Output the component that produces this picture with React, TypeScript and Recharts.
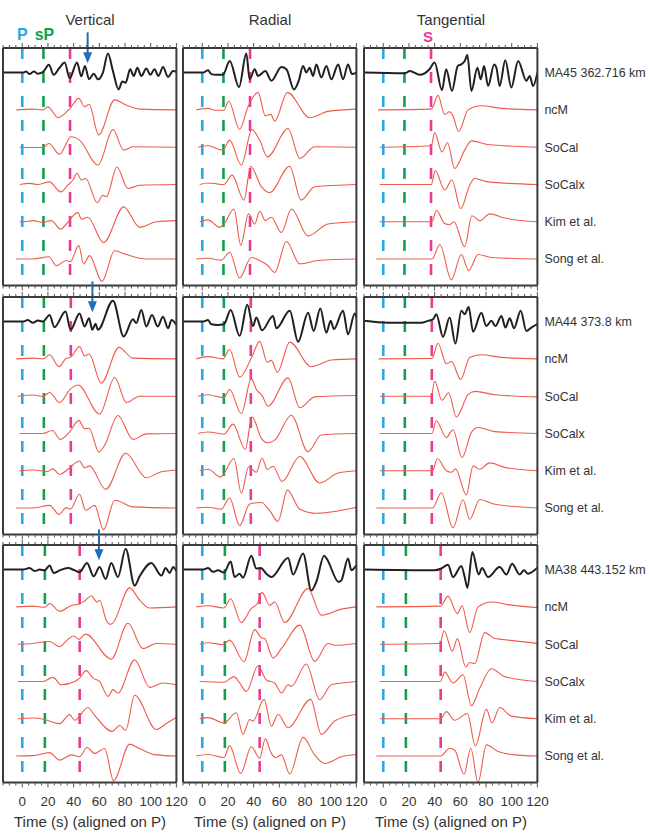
import React from 'react'
import { LineChart, Line, XAxis, YAxis, ReferenceLine, ReferenceDot } from 'recharts'

type Pt = [number, number]

const components = ['Vertical', 'Radial', 'Tangential']
const stations = ['MA45 362.716 km', 'MA44 373.8 km', 'MA38 443.152 km']
const models = ['ncM', 'SoCal', 'SoCalx', 'Kim et al.', 'Song et al.']

const xTicks = [-15, -10, -5, 0, 5, 10, 15, 20, 25, 30, 35, 40, 45, 50, 55, 60, 65, 70, 75, 80, 85, 90, 95, 100, 105, 110, 115, 120]

// phase times (s after P) for each station row
const pPick = [0, 0, 0]
const sPPick = [16.5, 16.8, 17.6]
const sPick = [37.2, 37.8, 44.7]
const arrowPick = [50.9, 54.6, 59.7]

// traces: [observed, ncM, SoCal, SoCalx, Kim et al., Song et al.], points are [time, amplitude]
const ma45Vertical: Pt[][] = [
  [[-15, 0], [0.5, 0], [3, 0.03], [5.7, -0.04], [9, 0.03], [12, -0.03], [16, 0.01], [20.8, 0.21], [24.4, -0.06], [29, 0.13], [33, 0.27], [36.9, -0.15], [42.6, 0.27], [46, -0.1], [48.8, 0.18], [52, -0.18], [55.6, -0.03], [59, -0.18], [62.8, 0], [66.7, 0.51], [70.6, 0.04], [75, -0.45], [77.9, -0.24], [80.5, -0.27], [84, 0.09], [86.8, -0.09], [89.6, 0.13], [92.7, -0.09], [96.6, 0.11], [99.7, -0.06], [103, 0.09], [106, -0.09], [109.6, 0.15], [113.5, -0.12], [117.4, 0.04], [120, 0.02]],
  [[-4.7, 0], [8, 0.02], [16, 0], [20, 0.08], [27.8, -0.21], [37.4, 0.05], [44, 0.31], [48.6, 0.08], [52, 0.15], [59.5, -0.67], [71.9, 0.27], [80.9, 0.13], [91.4, 0.02], [120, 0]],
  [[-2, 0], [16, -0.01], [20.8, 0.1], [29, -0.19], [38, 0.28], [44.6, 0.19], [59, -0.48], [70.6, 0.47], [79, -0.08], [86, 0.01], [120, 0]],
  [[-2, 0], [5.7, 0.03], [12, 0], [21, 0.07], [30, -0.2], [35.5, -0.02], [39.5, 0.12], [42.6, 0.3], [46, 0.12], [49.4, 0.16], [58.4, -0.49], [62.8, -0.29], [65.5, -0.33], [73.7, 0.47], [82.3, -0.11], [91.4, -0.02], [120, 0]],
  [[-2, 0], [0.5, 0], [8.3, 0.03], [16, -0.02], [22.6, 0.03], [29.9, -0.2], [34.3, -0.06], [43.4, 0.25], [46, 0.07], [51, 0.12], [63.3, -0.56], [79, 0.4], [91.4, -0.15], [104.4, 0], [120, 0.03]],
  [[-4.7, 0], [8.3, 0], [20.8, 0.06], [26.5, -0.18], [34.3, -0.04], [37.4, -0.07], [44, 0.36], [47.8, -0.13], [52.4, 0.09], [62, -0.6], [71.9, 0.22], [81, 0.12], [96.6, 0], [120, 0]],
]

const ma45Radial: Pt[][] = [
  [[-15, 0], [0.5, 0], [4.5, 0.06], [7, -0.04], [10.9, -0.06], [16, -0.06], [21.4, 0.31], [28.6, -0.39], [34.3, 0.51], [36.9, -0.18], [40.8, 0.09], [43.4, -0.09], [49.1, 0.04], [53.8, -0.22], [61.6, 0.15], [65.5, 0.09], [71.4, -0.45], [75.1, -0.22], [78.5, 0.18], [81, 0], [83.6, 0.13], [86.3, -0.09], [88.8, 0.22], [92.7, -0.13], [96.6, 0.18], [100.5, -0.18], [105.8, 0.22], [109.6, -0.18], [113.5, 0.22], [116.6, -0.04], [120, 0]],
  [[-4.6, 0], [4.5, 0.04], [9.7, -0.01], [16.9, -0.01], [20.6, 0.24], [29, -0.52], [35.6, 0.08], [43.4, 0.47], [49.1, -0.16], [53.3, -0.12], [56.4, -0.3], [66.3, 0.47], [83.6, -0.21], [97.9, -0.04], [120, 0.02]],
  [[-3.3, 0], [4.5, 0.04], [16, -0.08], [21.3, 0.19], [30.4, -0.48], [38.7, 0.47], [44.7, 0.19], [50.7, -0.26], [66.8, 0.5], [75.9, -0.3], [87.5, 0.01], [120, 0]],
  [[-2, 0], [4.5, 0.04], [12.2, 0.01], [16.9, 0], [23.2, 0.25], [32.5, -0.42], [37.7, 0.49], [46, -0.06], [52.5, -0.22], [68, 0.49], [77, -0.42], [87.5, -0.06], [120, 0]],
  [[-2, 0], [4.5, 0.05], [13.6, -0.15], [16.9, -0.06], [24.7, 0.34], [30, -0.63], [36, 0.21], [40.8, -0.06], [44.7, 0.28], [49.1, 0.03], [53.8, 0.12], [61.6, -0.29], [69.4, 0.34], [82.3, -0.38], [97.9, -0.06], [120, 0]],
  [[-4.6, 0], [4.5, 0.02], [14.8, -0.03], [21.4, 0.18], [29, -0.51], [38.2, 0.04], [44.7, -0.04], [51.2, -0.18], [56.4, -0.36], [65.5, 0.47], [75.9, -0.13], [90.1, -0.04], [120, 0]],
]

const ma45Tangential: Pt[][] = [
  [[-15, 0], [16.7, -0.02], [20.6, 0.04], [28.4, -0.06], [36, 0.09], [40, 0.27], [45.7, -0.47], [49, 0.09], [53.5, -0.49], [58, 0.18], [60.6, 0.22], [63.4, 0.31], [65.5, 0.47], [68.6, -0.49], [73.3, 0.13], [75.9, -0.18], [78.5, 0.18], [81.6, -0.36], [86.3, 0.22], [88.1, 0.13], [90.6, -0.36], [95, 0.33], [99.7, -0.4], [105, 0.31], [111.5, -0.22], [114, -0.09], [116.6, -0.36], [120, 0]],
  [[-4, 0], [37.4, 0.02], [42.6, 0.39], [47.8, -0.12], [51.7, -0.05], [54, -0.14], [58.7, -0.58], [66, 0], [76.4, 0.11], [92, 0.04], [120, 0]],
  [[-2.8, 0], [37.4, 0.04], [40, 0.39], [45.7, -0.13], [50, 0.12], [55.6, -0.57], [63.4, -0.08], [68.6, 0.17], [81.6, 0.07], [120, 0]],
  [[-2.8, 0], [37.4, 0], [40.5, 0.37], [47.8, -0.15], [53.5, 0.12], [60.3, -0.65], [67.3, -0.02], [71, 0.16], [81.6, 0.07], [120, 0]],
  [[-2.8, 0], [37.9, 0], [41.4, 0.31], [47.8, -0.05], [51.7, -0.08], [55, 0], [63.4, -0.67], [69, 0.16], [75.1, 0.03], [82.9, 0.21], [94.5, 0.1], [120, 0]],
  [[-5.4, 0], [38, 0], [44, 0.39], [53, -0.56], [60.8, 0.12], [66.5, -0.31], [73.8, 0.12], [84.2, 0.04], [120, 0]],
]

const ma44Vertical: Pt[][] = [
  [[-15, 0], [0.5, 0], [4.4, 0.04], [8.3, -0.03], [12.2, 0.03], [16, 0], [21.3, 0.18], [25, -0.15], [33.7, 0.27], [37.6, -0.22], [44.6, 0.22], [48.5, -0.13], [52, 0.09], [54.5, -0.22], [57, -0.06], [58.9, -0.22], [70.6, 0.56], [79, -0.4], [86.2, 0.06], [88.8, -0.04], [92.7, 0.31], [96.6, -0.13], [101, 0.18], [105.4, -0.13], [109.6, 0.13], [113.5, -0.18], [116.2, 0.04], [120, -0.09]],
  [[-4.7, 0], [8.3, 0.02], [16, 0], [21.3, 0.11], [28.6, -0.21], [34.3, 0.02], [37.4, 0.04], [44.6, 0.33], [48.5, 0.08], [52, 0.13], [61.5, -0.65], [75.3, 0.31], [86.2, 0.02], [120, 0]],
  [[-3.4, 0], [8.3, 0.03], [16, -0.01], [21.3, 0.1], [29, -0.17], [37.4, 0.19], [43.4, 0.3], [60.2, -0.48], [72, 0.5], [81, -0.17], [91.4, 0], [120, 0]],
  [[-2.1, 0], [16, 0], [23.4, 0.08], [29.6, -0.16], [36.9, 0.04], [44, 0.35], [48.5, 0.13], [52, 0.14], [59.7, -0.5], [64.1, -0.32], [74.5, 0.48], [86.2, -0.16], [96.6, -0.01], [120, 0]],
  [[-2.1, 0], [8.3, 0.02], [20, -0.02], [23.9, 0.05], [29, -0.1], [35.6, 0.04], [44.6, 0.26], [48.5, 0.08], [52.4, 0.13], [65, -0.5], [80.5, 0.47], [96.6, -0.19], [107, -0.04], [120, 0.02]],
  [[-4.7, 0], [8.3, 0], [21.3, 0.07], [28.6, -0.17], [34.3, 0.01], [37.4, -0.03], [44.6, 0.37], [49.3, -0.06], [56.3, 0.07], [63.3, -0.58], [72, 0.21], [86.2, 0.03], [120, 0]],
]

const ma44Radial: Pt[][] = [
  [[-15, 0], [0.5, 0], [4.5, 0.04], [7, -0.07], [12.2, -0.09], [16.9, -0.07], [22.1, 0.31], [29.1, -0.38], [35.1, 0.45], [39.5, -0.12], [42.1, 0.11], [46.5, -0.23], [55.1, 0.15], [57.7, -0.18], [68.1, 0.29], [74.6, -0.54], [82.4, 0.24], [86.7, -0.25], [91.9, 0.35], [96.6, -0.3], [100, 0.02], [102.5, -0.2], [109.6, 0.29], [113.5, -0.34], [118.7, 0.22], [120, 0.1]],
  [[-4.6, 0], [4.5, 0.06], [16.1, 0], [21.3, 0.25], [29.1, -0.49], [38.7, 0.06], [44.7, 0.47], [50.7, -0.09], [53.8, -0.04], [58.5, -0.36], [68.1, 0.45], [84.9, -0.21], [100.5, -0.03], [120, 0]],
  [[-3.3, 0], [4.5, 0.04], [16.9, -0.04], [21.3, 0.18], [30.4, -0.47], [38.2, 0.47], [42.1, 0.18], [46.5, 0.02], [51.2, -0.27], [66.8, 0.49], [75.9, -0.31], [87.5, -0.02], [120, 0.02]],
  [[-3.3, 0], [4.5, 0.04], [16.9, -0.02], [23.9, 0.25], [33.5, -0.43], [38.7, 0.45], [46, -0.13], [51.2, -0.25], [56.4, -0.18], [69.4, 0.49], [82.3, -0.49], [92.7, -0.04], [120, 0]],
  [[-2, 0], [4.5, 0.04], [14.3, -0.17], [24.7, 0.33], [30.4, -0.6], [36.1, 0.1], [42.1, -0.04], [46.5, 0.34], [50.7, 0.03], [55.1, 0.12], [62.1, -0.29], [75.9, 0.38], [91.4, -0.33], [105.8, -0.06], [120, 0]],
  [[-4.6, 0], [4.5, 0.02], [14.8, -0.03], [21.3, 0.27], [29.1, -0.47], [36.9, 0.11], [46, 0.15], [52.5, -0.07], [58.9, -0.36], [66.3, 0.48], [75.9, -0.03], [88.8, -0.14], [120, 0.02]],
]

const ma44Tangential: Pt[][] = [
  [[-15, 0.02], [3.7, -0.03], [29.6, -0.03], [34.8, 0.02], [38.7, 0.06], [41.3, 0.2], [46.5, -0.41], [51.7, 0.11], [56.2, -0.59], [60.8, 0.29], [63.4, 0.2], [66.5, 0.39], [69.9, -0.27], [76.4, 0.24], [80.2, -0.12], [84.2, 0.02], [87.3, -0.12], [92, 0.15], [95.1, -0.16], [98.5, 0.09], [101.8, -0.18], [107, 0.29], [111.4, -0.25], [115.3, -0.16], [120, -0.07]],
  [[-3.6, 0], [37.9, 0.01], [42.6, 0.42], [49.1, -0.13], [53.1, -0.07], [60.3, -0.55], [67.3, 0.04], [76.4, 0.11], [92, 0.04], [120, 0]],
  [[-2.8, 0], [37.4, 0], [40, 0.4], [45.7, -0.11], [50.9, 0.09], [56.9, -0.56], [66, 0.04], [71.3, 0.13], [86.8, 0.04], [120, -0.02]],
  [[-2.8, 0], [37.9, 0], [41.3, 0.34], [49.1, -0.11], [54.3, 0.1], [61.3, -0.65], [68.6, 0.03], [73.8, 0.16], [86.8, 0.05], [120, 0]],
  [[-2.8, 0], [38.4, 0], [42.1, 0.33], [49.1, 0], [53.1, -0.04], [56.2, 0.05], [64.7, -0.65], [69.9, 0.13], [75.1, 0.04], [82.9, 0.21], [94.5, 0.09], [120, 0]],
  [[-5.4, 0], [38.4, 0], [45.2, 0.41], [54.3, -0.53], [62.1, 0.22], [67.3, -0.3], [75.1, 0.23], [86.8, 0.1], [120, 0]],
]

const ma38Vertical: Pt[][] = [
  [[-15, 0], [0.5, 0], [5.7, 0.04], [9.6, -0.04], [13.5, 0], [17.4, -0.02], [21.3, 0.11], [24.4, -0.09], [29.1, -0.02], [35.6, 0.04], [40.8, -0.02], [44.6, -0.07], [50.4, 0.18], [55.6, -0.18], [60.2, 0.07], [64.9, -0.25], [69.3, 0.18], [74.5, -0.2], [80.5, 0.56], [87.5, -0.43], [91.4, -0.18], [100.5, 0.18], [108.3, -0.16], [111.6, 0.04], [114.8, -0.09], [117.4, 0.07], [120, -0.04]],
  [[-4.7, 0], [8.3, 0.02], [17.4, -0.01], [21.3, 0.09], [29.1, -0.12], [38.2, 0.04], [44.6, 0.08], [49.3, 0.18], [53.7, 0.3], [58.2, 0.13], [60.2, 0.18], [65.4, -0.36], [68.5, -0.47], [70.6, -0.43], [83.6, 0.51], [91.4, 0.18], [99.2, -0.03], [120, 0]],
  [[-3.4, 0], [8.3, 0.02], [21.3, 0.07], [29.1, -0.07], [34.3, 0.09], [40, 0.22], [44.1, 0.13], [49.3, 0.27], [69.3, -0.4], [82.3, 0.56], [94, -0.12], [104.4, 0.02], [120, 0]],
  [[-3.4, 0], [16, 0], [23.9, 0.11], [30.4, -0.09], [40.8, 0], [44.6, 0.09], [49.8, 0.29], [55.1, 0.09], [60.2, 0], [66.8, -0.4], [70.6, -0.22], [74.5, -0.31], [87.5, 0.58], [99.2, -0.16], [109.6, -0.04], [120, -0.09]],
  [[-3.4, 0], [8.3, 0.02], [17.4, -0.02], [29.1, -0.13], [36.9, 0.11], [40.8, -0.04], [51.1, 0.3], [56.3, 0.09], [70.1, -0.34], [75.8, -0.18], [80.5, -0.31], [87.5, 0.63], [104.4, -0.29], [112.1, -0.13], [120, 0.04]],
  [[-4.7, 0], [8.3, 0.01], [21.3, 0.09], [29.1, -0.11], [38.2, 0.03], [44.6, -0.02], [50.4, 0.23], [56.3, 0.07], [64.1, 0.2], [71.1, -0.66], [83.6, 0.32], [91.4, 0.2], [104.4, 0.03], [120, 0]],
]

const ma38Radial: Pt[][] = [
  [[-15, 0], [0.5, 0], [4.5, 0.04], [8.4, -0.06], [12.2, -0.02], [16.9, -0.08], [22.1, 0.22], [25.2, -0.2], [29.1, -0.11], [31.7, -0.22], [38.2, 0.37], [42.1, 0.03], [45.5, 0.04], [49.9, -0.11], [53.8, -0.2], [66.8, 0.31], [70.7, -0.13], [78.5, 0.43], [84.9, -0.56], [88.8, -0.33], [94.8, 0.37], [96.6, 0.31], [106.2, -0.33], [108.3, -0.29], [113.5, 0.3], [116.1, -0.02], [120, 0.12]],
  [[-4.6, 0], [4.5, 0.03], [16.9, -0.03], [22.1, 0.22], [30.4, -0.42], [38.2, -0.04], [42.9, 0.09], [46.5, 0.39], [52.5, 0.04], [56.4, 0.13], [64.2, -0.42], [82.3, 0.49], [92.7, -0.22], [108.3, -0.06], [120, 0]],
  [[-2, 0], [4.5, 0.04], [16.1, -0.01], [21.3, 0.11], [32.5, -0.47], [40.8, 0.39], [46, 0.17], [48.6, 0.15], [55.1, -0.37], [62, -0.1], [75.9, 0.51], [87.5, -0.46], [97.9, 0.02], [103.1, -0.03], [120, 0.02]],
  [[-2, 0], [16.9, -0.02], [24.7, 0.13], [29.1, -0.04], [34.3, -0.27], [43.4, 0.42], [49.9, 0.04], [56.4, -0.04], [61.6, -0.31], [66.8, -0.09], [69.4, -0.13], [81, 0.47], [91.4, -0.49], [100.5, -0.09], [120, 0]],
  [[-2, 0], [4.5, 0.03], [16.9, -0.11], [26.5, 0.16], [31.7, -0.42], [36.9, -0.02], [39.5, -0.06], [48.1, 0.52], [53.8, -0.2], [59, 0.12], [66.8, -0.24], [84.4, 0.52], [92.7, -0.42], [103.1, -0.06], [120, 0.12]],
  [[-4.6, 0], [4.5, 0.04], [16.9, -0.04], [21.3, 0.28], [29.9, -0.47], [38.2, 0.25], [44.7, -0.06], [49.1, 0.46], [53.8, 0.07], [57.1, -0.04], [61.6, 0.03], [68.1, -0.48], [78.5, 0.5], [87.5, 0.03], [95.4, -0.2], [108.3, -0.02], [120, 0.04]],
]

const ma38Tangential: Pt[][] = [
  [[-15, 0], [40, -0.02], [45.2, 0.03], [50.4, 0.13], [54.3, -0.2], [60.8, 0.1], [63.4, -0.2], [65.5, -0.49], [69.4, 0.47], [74.3, -0.13], [76.9, 0.04], [81.6, -0.2], [90.6, 0.07], [95.9, -0.13], [100.3, 0.16], [106.2, -0.13], [109.6, -0.02], [112.7, -0.11], [120, 0.05]],
  [[-5.4, 0], [44.7, 0.02], [50.4, 0.29], [57.7, -0.18], [61.3, 0.03], [67.3, -0.69], [73.8, 0], [84.2, 0.13], [97.2, 0.06], [120, -0.02]],
  [[-2.8, 0], [44, 0.02], [47.3, 0.36], [53.8, -0.19], [57.7, 0.15], [64.2, -0.61], [67.3, -0.49], [71.2, -0.52], [79, 0.31], [86.8, 0.15], [92, 0.13], [120, 0.02]],
  [[-2.8, 0], [44.5, 0], [47.8, 0.25], [54.3, -0.04], [62.1, 0.18], [68.6, -0.65], [75.1, -0.18], [84.2, 0.34], [94.5, 0.13], [120, 0]],
  [[-2.8, 0], [44.7, 0], [49.1, 0.19], [55.6, -0.04], [65.5, 0.14], [71.7, -0.73], [80.3, 0.25], [84.7, -0.11], [90.6, 0.3], [99.7, 0.07], [120, 0]],
  [[-5.4, 0], [44.7, 0], [51.7, 0.21], [55.6, 0.16], [62.9, -0.49], [68.1, 0.21], [73.8, -0.71], [80.3, 0.3], [89.3, 0.12], [102.3, 0.03], [120, 0]],
]

const waves: Pt[][][][] = [
  [ma45Vertical, ma45Radial, ma45Tangential],
  [ma44Vertical, ma44Radial, ma44Tangential],
  [ma38Vertical, ma38Radial, ma38Tangential],
]

// layout
const COL_X = [3.3, 183.3, 364.3]
const ROW_Y = [47.7, 296.7, 545]
const FW = 173.4
const FH = 237.5
const Y_DOMAIN: [number, number] = [-5.71, 0.66]
const X_DOMAIN: [number, number] = [-15, 120]

const FONT = 'Arial, "Liberation Sans", Helvetica, sans-serif'
const FRAME = '#3a3a3a'
const TICK = '#555555'
const OBS = '#231f20'
const SYN = '#f05a4a'
const CYAN = '#27aae1'
const GREEN = '#13a04c'
const MAGENTA = '#ec3a94'
const BLUE = '#1c6fb8'

const frameLine = { stroke: FRAME, strokeWidth: 2 }

const topTick = (p: any) => {
  const major = p.payload.value % 20 === 0
  return <line x1={p.x} x2={p.x} y1={p.y} y2={p.y - (major ? 5 : 3)} stroke={TICK} strokeWidth={1} />
}

const bottomTick = (withLabel: boolean) => (p: any) => {
  const v = p.payload.value
  const major = v % 20 === 0
  return (
    <g>
      <line x1={p.x} x2={p.x} y1={p.y} y2={p.y + (major ? 5 : 3)} stroke={TICK} strokeWidth={1} />
      {withLabel && major && v >= 0 && (
        <text x={p.x} y={p.y + 24} textAnchor="middle" fontSize={13.5} fill="#333" fontFamily={FONT}>
          {v}
        </text>
      )}
    </g>
  )
}

const traceLabel = (row: number) => (p: any) => {
  const idx = Math.round(-p.payload.value)
  const txt = idx === 0 ? stations[row] : models[idx - 1]
  return (
    <text x={p.x + 7} y={p.y} dy="0.35em" fontSize={12.5} fill="#333" fontFamily={FONT}>
      {txt}
    </text>
  )
}

const phaseLabel = (txt: string, color: string, dx: number, size: number) => (p: any) => (
  <text x={p.cx + dx} y={p.cy} dy="0.35em" textAnchor="middle" fontSize={size} fontWeight="bold" fill={color} fontFamily={FONT}>
    {txt}
  </text>
)

const arrowHead = (p: any) => (
  <path d={`M${p.cx},${p.cy} L${p.cx - 4.5},${p.cy - 11} L${p.cx + 4.5},${p.cy - 11} Z`} fill={BLUE} />
)

function Panel({ row, col }: { row: number; col: number }) {
  const traces = waves[row][col]
  const ml = 5
  const mr = col === 2 ? 112 : row === 2 ? 14 : 5
  const mt = row === 0 ? 42 : 20
  const mb = row === 2 ? 40 : 8
  const phases: [number, string][] = [
    [pPick[row], CYAN],
    [sPPick[row], GREEN],
    [sPick[row], MAGENTA],
  ]
  return (
    <div style={{ position: 'absolute', left: COL_X[col] - ml, top: ROW_Y[row] - mt }}>
      <LineChart
        width={FW + ml + mr}
        height={FH + mt + mb}
        margin={{ top: mt - 1, right: mr - 1, bottom: mb - 1, left: ml - 1 }}
      >
        <XAxis
          xAxisId="b"
          type="number"
          dataKey="t"
          domain={X_DOMAIN}
          allowDataOverflow
          ticks={xTicks}
          interval={0}
          height={1}
          tickSize={0}
          tickMargin={0}
          tickLine={false}
          axisLine={frameLine}
          tick={bottomTick(row === 2)}
        />
        <XAxis
          xAxisId="t"
          orientation="top"
          type="number"
          dataKey="t"
          domain={X_DOMAIN}
          allowDataOverflow
          ticks={xTicks}
          interval={0}
          height={1}
          tickSize={0}
          tickMargin={0}
          tickLine={false}
          axisLine={frameLine}
          tick={topTick}
        />
        <YAxis
          yAxisId="l"
          type="number"
          domain={Y_DOMAIN}
          allowDataOverflow
          ticks={[0]}
          width={1}
          tick={false}
          tickLine={false}
          axisLine={frameLine}
        />
        <YAxis
          yAxisId="r"
          orientation="right"
          type="number"
          domain={Y_DOMAIN}
          allowDataOverflow
          ticks={[0, -1, -2, -3, -4, -5]}
          interval={0}
          width={1}
          tickSize={0}
          tickMargin={0}
          tickLine={false}
          tick={col === 2 ? traceLabel(row) : false}
          axisLine={frameLine}
        />
        {phases.map(([t, color], k) => (
          <ReferenceLine
            key={`ph${k}`}
            xAxisId="b"
            yAxisId="l"
            segment={[
              { x: t, y: Y_DOMAIN[1] },
              { x: t, y: Y_DOMAIN[0] },
            ]}
            stroke={color}
            strokeWidth={2.6}
            strokeDasharray="11 13"
          />
        ))}
        {traces.map((pts, i) => (
          <Line
            key={`tr${i}`}
            xAxisId="b"
            yAxisId="l"
            data={pts.map(([t, a]) => ({ t, y: a - i }))}
            dataKey="y"
            type="monotone"
            stroke={i === 0 ? OBS : SYN}
            strokeWidth={i === 0 ? 2 : 1.1}
            dot={false}
            activeDot={false}
            isAnimationActive={false}
          />
        ))}
        {col === 0 && (
          <ReferenceLine
            xAxisId="b"
            yAxisId="l"
            ifOverflow="visible"
            segment={[
              { x: arrowPick[row], y: 1.08 },
              { x: arrowPick[row], y: 0.5 },
            ]}
            stroke={BLUE}
            strokeWidth={2}
          />
        )}
        {col === 0 && (
          <ReferenceDot xAxisId="b" yAxisId="l" x={arrowPick[row]} y={0.25} ifOverflow="visible" shape={arrowHead} />
        )}
        {row === 0 && col === 0 && (
          <ReferenceDot xAxisId="b" yAxisId="l" x={pPick[0]} y={1.03} ifOverflow="visible" shape={phaseLabel('P', CYAN, 0, 16)} />
        )}
        {row === 0 && col === 0 && (
          <ReferenceDot xAxisId="b" yAxisId="l" x={sPPick[0]} y={1.03} ifOverflow="visible" shape={phaseLabel('sP', GREEN, 1, 16)} />
        )}
        {row === 0 && col === 2 && (
          <ReferenceDot xAxisId="b" yAxisId="l" x={sPick[0]} y={0.96} ifOverflow="visible" shape={phaseLabel('S', MAGENTA, -3, 15)} />
        )}
      </LineChart>
    </div>
  )
}

export default function App() {
  return (
    <div style={{ position: 'absolute', left: 0, top: 0, width: 649, height: 836, background: '#fff', fontFamily: FONT }}>
      {components.map((c, col) => (
        <div
          key={c}
          style={{
            position: 'absolute',
            left: COL_X[col],
            width: FW,
            top: 11,
            textAlign: 'center',
            fontSize: 15,
            lineHeight: '17px',
            color: '#333',
          }}
        >
          {c}
        </div>
      ))}
      {[0, 1, 2].map((row) =>
        [0, 1, 2].map((col) => <Panel key={`${row}-${col}`} row={row} col={col} />)
      )}
      {components.map((c, col) => (
        <div
          key={`lab${c}`}
          style={{
            position: 'absolute',
            left: COL_X[col] - 20,
            width: FW + 40,
            top: 813,
            textAlign: 'center',
            fontSize: 15,
            lineHeight: '18px',
            color: '#333',
          }}
        >
          Time (s) (aligned on P)
        </div>
      ))}
    </div>
  )
}
